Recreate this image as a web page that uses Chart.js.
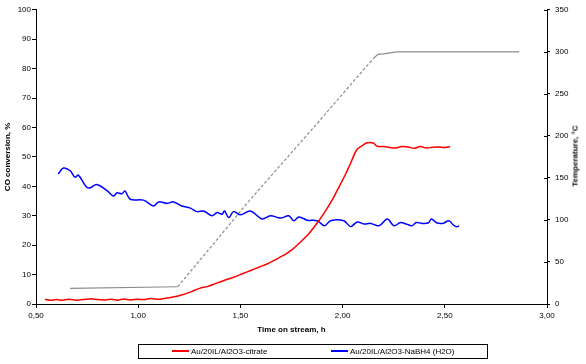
<!DOCTYPE html>
<html>
<head>
<meta charset="utf-8">
<script src="https://cdn.jsdelivr.net/npm/chart.js@4"></script>
<style>
  body { margin: 0; background: #fff; }
  #wrap { position: relative; width: 586px; height: 364px; font-family: "Liberation Sans", Arial, sans-serif; }
  #legend { position: absolute; left: 138px; top: 344px; width: 348px; height: 13px; border: 1px solid #000; font-size: 8px; }
  .item { position: absolute; top: 2px; white-space: nowrap; line-height: 9px; }
  .swatch { display: inline-block; width: 17px; height: 2px; vertical-align: middle; margin-right: 2px; margin-top: -2px; }
  #ytitle2 { position: absolute; left: 575px; top: 156px; font-size: 8px; font-weight: bold; white-space: nowrap;
             transform: translate(-50%, -50%) rotate(-90deg); }
</style>
</head>
<body>
<div id="wrap">
  <canvas id="chart" width="586" height="364"></canvas>
  <div id="legend"></div>
  <div id="ytitle2">Temperature, °C</div>
</div>
<script>
// Au/20IL/Al2O3-citrate, CO conversion %
const timeCitrate = [0.544, 0.57, 0.6, 0.63, 0.66, 0.7, 0.73, 0.77, 0.8, 0.84, 0.87, 0.9, 0.93, 0.96, 1.0, 1.03, 1.06, 1.09,
  1.12, 1.15, 1.19, 1.22, 1.26, 1.3, 1.34, 1.38, 1.42, 1.47, 1.51, 1.55, 1.59, 1.63, 1.67, 1.71, 1.75, 1.79, 1.83, 1.87,
  1.91, 1.95, 1.98, 2.01, 2.04, 2.07, 2.1, 2.12, 2.15, 2.17, 2.2, 2.23, 2.26, 2.29, 2.32, 2.35, 2.38, 2.41, 2.44, 2.47, 2.5, 2.526];
const convCitrate = [1.6, 1.3, 1.5, 1.3, 1.6, 1.3, 1.5, 1.8, 1.5, 1.4, 1.6, 1.3, 1.7, 1.4, 1.6, 1.5, 1.9, 1.6,
  1.8, 2.1, 2.6, 3.2, 4.2, 5.3, 6.0, 7.0, 8.0, 9.2, 10.3, 11.4, 12.5, 13.6, 15.0, 16.5, 18.3, 20.8, 23.5, 27.0,
  31.0, 35.5, 39.5, 43.5, 48.0, 52.5, 54.0, 54.8, 54.7, 53.6, 53.5, 53.2, 53.0, 53.5, 53.4, 52.9, 53.5, 53.0, 53.3, 53.4, 53.2, 53.5];

// Au/20IL/Al2O3-NaBH4 (H2O), CO conversion %
const timeNaBH4 = [0.609, 0.634, 0.667, 0.691, 0.707, 0.748, 0.765, 0.797, 0.846, 0.879, 0.896, 0.92, 0.936, 0.961, 1.026,
  1.075, 1.1, 1.141, 1.173, 1.214, 1.255, 1.288, 1.32, 1.361, 1.386, 1.41, 1.422, 1.443, 1.467, 1.5, 1.549, 1.606, 1.647,
  1.696, 1.737, 1.761, 1.786, 1.827, 1.876, 1.912, 1.941, 2.006, 2.039, 2.072, 2.104, 2.137, 2.178, 2.219, 2.251, 2.284,
  2.31, 2.34, 2.36, 2.39, 2.42, 2.435, 2.46, 2.49, 2.52, 2.54, 2.555, 2.57];
const convNaBH4 = [44.2, 46.2, 45.3, 43.1, 43.8, 39.7, 39.5, 40.6, 38.6, 36.7, 37.8, 37.5, 38.4, 35.6, 35.3,
  33.3, 34.7, 34.2, 34.7, 33.3, 32.6, 31.4, 31.6, 30.0, 31.1, 30.5, 31.6, 29.4, 31.4, 30.3, 31.6, 28.9, 30.0,
  29.2, 30.0, 28.3, 29.6, 28.5, 28.3, 26.6, 28.3, 28.3, 26.3, 27.9, 27.2, 27.4, 26.6, 28.9, 26.6, 27.7,
  27.2, 26.6, 27.7, 27.4, 27.6, 28.9, 27.6, 27.4, 28.3, 27.0, 26.3, 26.5];

// temperature, °C (right axis)
const timeTemp = [0.667, 1.193, 1.37, 1.54, 1.876, 2.15, 2.173, 2.2, 2.265, 2.864];
const tempValues = [18.5, 20.5, 72, 122, 215, 292, 297, 297.5, 300, 300];

const xTicks = [0.5, 1.0, 1.5, 2.0, 2.5, 3.0];

const seriesLabels = ["Au/20IL/Al2O3-citrate", "Au/20IL/Al2O3-NaBH4 (H2O)"];
const seriesColors = ["#ff0000", "#0000ff"];

function toPoints(xs, ys) {
  return xs.map((x, i) => ({ x: x, y: ys[i] }));
}

// right axis ticks in the original cross the axis line
const innerTicks = {
  id: "innerTicks",
  afterDraw(chart) {
    const s = chart.scales.y2;
    const c = chart.ctx;
    c.save();
    c.strokeStyle = "#000";
    c.lineWidth = 1;
    s.ticks.forEach((t) => {
      const y = Math.round(s.getPixelForValue(t.value)) + 0.5;
      c.beginPath();
      c.moveTo(s.left - 3, y);
      c.lineTo(s.left, y);
      c.stroke();
    });
    c.restore();
  },
};

Chart.defaults.font.family = '"Liberation Sans", Arial, sans-serif';
Chart.defaults.font.size = 8;
Chart.defaults.color = "#000";

const ctx = document.getElementById("chart").getContext("2d");

new Chart(ctx, {
  type: "line",
  data: {
    datasets: [
      {
        label: seriesLabels[0],
        data: toPoints(timeCitrate, convCitrate),
        borderColor: seriesColors[0],
        borderWidth: 1.5,
        pointRadius: 0,
        tension: 0.35,
        yAxisID: "y",
      },
      {
        label: seriesLabels[1],
        data: toPoints(timeNaBH4, convNaBH4),
        borderColor: seriesColors[1],
        borderWidth: 1.5,
        pointRadius: 0,
        tension: 0.35,
        yAxisID: "y",
      },
      {
        label: "Temperature",
        data: toPoints(timeTemp, tempValues),
        borderColor: "#8c8c8c",
        borderWidth: 1.2,
        pointRadius: 0,
        tension: 0,
        yAxisID: "y2",
        segment: {
          borderDash: (c) => (c.p1.parsed.y - c.p0.parsed.y > 5 ? [3, 2] : undefined),
        },
      },
    ],
  },
  options: {
    responsive: false,
    animation: false,
    layout: { padding: { left: 0, right: 0, top: 7, bottom: 29 } },
    plugins: { legend: { display: false }, tooltip: { enabled: false } },
    scales: {
      x: {
        type: "linear",
        min: 0.5,
        max: 3.0,
        afterBuildTicks: (s) => { s.ticks = xTicks.map((v) => ({ value: v })); },
        afterFit: (s) => { s.height = 31; },
        grid: { drawOnChartArea: false, color: "#000", tickLength: 4 },
        border: { color: "#000", width: 1 },
        ticks: { padding: 3, maxRotation: 0, callback: (v) => v.toFixed(2).replace(".", ",") },
        title: { display: true, text: "Time on stream, h", font: { weight: "bold" }, padding: { top: 0, bottom: 0 } },
      },
      y: {
        position: "left",
        min: 0,
        max: 100,
        afterFit: (s) => { s.width = 36; },
        grid: { drawOnChartArea: false, color: "#000", tickLength: 4 },
        border: { color: "#000", width: 1 },
        ticks: { stepSize: 10, padding: 1 },
        title: { display: true, text: "CO conversion, %", font: { weight: "bold" }, padding: { top: 3, bottom: 0 } },
      },
      y2: {
        position: "right",
        min: 0,
        max: 350,
        afterFit: (s) => { s.width = 39; },
        grid: { drawOnChartArea: false, color: "#000", tickLength: 3 },
        border: { color: "#000", width: 1 },
        ticks: { stepSize: 50, padding: 5 },
      },
    },
  },
  plugins: [innerTicks],
});

// legend box like the original (HTML)
const legend = document.getElementById("legend");
const itemLeft = [33, 192];
legend.innerHTML = seriesLabels
  .map(
    (lbl, i) =>
      `<span class="item" style="left:${itemLeft[i]}px"><span class="swatch" style="background:${seriesColors[i]}"></span>${lbl}</span>`
  )
  .join("");
</script>
</body>
</html>
